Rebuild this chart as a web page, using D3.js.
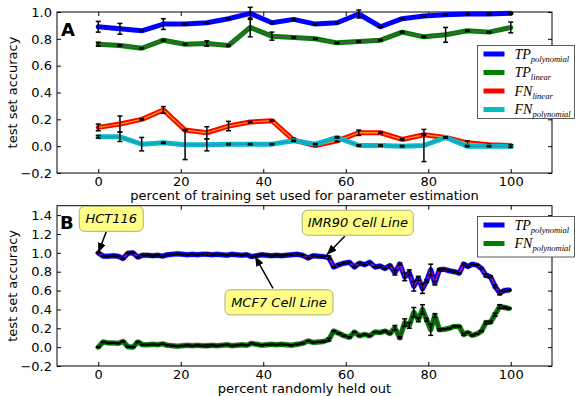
<!DOCTYPE html>
<html>
<head>
<meta charset="utf-8">
<script src="https://cdn.jsdelivr.net/npm/d3@7"></script>
<style>
  body { margin: 0; background: #fff; }
  svg { display: block; }
</style>
</head>
<body>
<script>
// ---------- Panel A: accuracy vs. share of training set used ----------
const xA = [0, 5.26, 10.53, 15.79, 21.05, 26.32, 31.58, 36.84, 42.11, 47.37,
            52.63, 57.89, 63.16, 68.42, 73.68, 78.95, 84.21, 89.47, 94.74, 100];
const tpPolyA = [0.89, 0.875, 0.86, 0.91, 0.91, 0.92, 0.95, 0.99, 0.92, 0.945,
                 0.91, 0.92, 0.985, 0.89, 0.95, 0.97, 0.98, 0.985, 0.985, 0.99];
const tpLinA  = [0.76, 0.75, 0.73, 0.79, 0.76, 0.765, 0.75, 0.885, 0.82, 0.81,
                 0.80, 0.77, 0.78, 0.79, 0.85, 0.815, 0.83, 0.86, 0.85, 0.885];
const fnLinA  = [0.14, 0.165, 0.20, 0.27, 0.12, 0.10, 0.15, 0.18, 0.19, 0.045,
                 0.005, 0.04, 0.10, 0.10, 0.05, 0.085, 0.065, 0.025, 0.01, 0.005];
const fnPolyA = [0.07, 0.07, 0.015, 0.025, 0.01, 0.01, 0.015, 0.015, 0.015, 0.04,
                 0.015, 0.065, 0.005, 0.005, 0.0, 0.005, 0.065, 0.0, 0.0, 0.0];
const errTpPolyA = [0.04, 0.04, 0.005, 0.04, 0.005, 0.005, 0.005, 0.045, 0.005, 0.005,
                    0.005, 0.005, 0.03, 0.005, 0.005, 0.005, 0.005, 0.005, 0.005, 0.005];
const errTpLinA  = [0.015, 0.005, 0.005, 0.005, 0.005, 0.02, 0.005, 0.07, 0.03, 0.005,
                    0.005, 0.005, 0.005, 0.005, 0.005, 0.005, 0.055, 0.005, 0.005, 0.04];
const errFnLinA  = [0.025, 0.06, 0.005, 0.025, 0.005, 0.045, 0.035, 0.005, 0.005, 0.015,
                    0.005, 0.005, 0.02, 0.005, 0.005, 0.005, 0.005, 0.015, 0.005, 0.005];
const errFnPolyA = [0.01, 0.035, 0.05, 0.005, 0.11, 0.045, 0.005, 0.005, 0.005, 0.005,
                    0.005, 0.005, 0.005, 0.005, 0.005, 0.12, 0.005, 0.005, 0.005, 0.01];

// ---------- Panel B: accuracy vs. share randomly held out ----------
const xB = [0, 1.2, 2.4, 3.6, 4.8, 6, 7.2, 8.4, 9.6, 10.8, 12, 13.2, 14.4, 15.6, 16.8,
            18, 19.2, 20.4, 21.6, 22.8, 24, 25.2, 26.4, 27.6, 28.8, 30, 31.2, 32.4,
            33.6, 34.8, 36, 37.2, 38.4, 39.6, 40.8, 42, 43.2, 44.4, 45.6, 46.8,
            48.2, 49.5, 50.9, 52.1, 53.4, 54.6, 55.9, 57.1, 58.4, 59.6, 60.9, 62.1,
            63.3, 64.6, 65.8, 67.1, 68.3, 69.5, 70.7, 71.9, 73.1, 74.3, 75.4, 76.5,
            77.6, 78.6, 79.6, 80.6, 81.6, 82.7, 83.9, 85.1, 86.3, 87.5, 88.6, 89.6,
            90.7, 91.8, 92.9, 94.0, 95.1, 96.2, 97.3, 98.5, 99.6];
const tpPolyB = [1.0, 0.965, 0.965, 0.97, 0.965, 0.94, 0.995, 1.0, 0.955, 0.975, 0.975,
                 0.97, 0.975, 0.965, 0.98, 0.985, 0.99, 0.985, 0.98, 0.985, 0.98, 0.985,
                 0.985, 0.98, 0.985, 0.98, 0.975, 0.985, 0.98, 0.975, 0.98, 0.96, 0.97,
                 0.98, 0.975, 0.97, 0.975, 0.97, 0.975, 0.98,
                 0.985, 0.975, 0.945, 0.97, 0.965, 0.96, 0.95, 0.85, 0.875, 0.89, 0.90,
                 0.85, 0.89, 0.875, 0.90, 0.85, 0.86, 0.835, 0.865, 0.79, 0.88, 0.745,
                 0.79, 0.645, 0.73, 0.62, 0.70, 0.82, 0.68, 0.82, 0.825, 0.81, 0.80,
                 0.785, 0.88, 0.855, 0.88, 0.87, 0.835, 0.76, 0.745, 0.645, 0.575, 0.60, 0.605];
const fnPolyB = [0.0, 0.055, 0.045, 0.045, 0.04, 0.06, 0.005, 0.0, 0.055, 0.025, 0.025,
                 0.03, 0.025, 0.035, 0.02, 0.015, 0.01, 0.015, 0.02, 0.015, 0.02, 0.015,
                 0.015, 0.02, 0.015, 0.02, 0.025, 0.015, 0.02, 0.025, 0.02, 0.04, 0.03,
                 0.02, 0.025, 0.03, 0.025, 0.03, 0.025, 0.02,
                 0.03, 0.04, 0.065, 0.05, 0.055, 0.06, 0.08, 0.17, 0.145, 0.12, 0.105,
                 0.16, 0.12, 0.135, 0.12, 0.16, 0.155, 0.17, 0.145, 0.205, 0.10, 0.26,
                 0.23, 0.37, 0.29, 0.40, 0.29, 0.185, 0.335, 0.185, 0.19, 0.20, 0.22,
                 0.22, 0.135, 0.155, 0.125, 0.14, 0.17, 0.26, 0.265, 0.345, 0.43, 0.42, 0.41];
const errB = [0.005, 0.005, 0.005, 0.005, 0.005, 0.005, 0.005, 0.005, 0.005, 0.005,
              0.005, 0.005, 0.005, 0.005, 0.005, 0.005, 0.005, 0.005, 0.005, 0.005,
              0.005, 0.005, 0.012, 0.005, 0.005, 0.005, 0.005, 0.005, 0.005, 0.005,
              0.005, 0.005, 0.005, 0.005, 0.005, 0.005, 0.005, 0.005, 0.005, 0.005,
              0.005, 0.005, 0.005, 0.005, 0.005, 0.005, 0.015, 0.005, 0.005, 0.005,
              0.005, 0.005, 0.005, 0.005, 0.005, 0.005, 0.005, 0.005, 0.005, 0.025,
              0.01, 0.04, 0.03, 0.05, 0.02, 0.05, 0.015, 0.06, 0.02, 0.01,
              0.005, 0.005, 0.005, 0.005, 0.01, 0.005, 0.005, 0.005, 0.005, 0.015,
              0.01, 0.015, 0.02, 0.01, 0.005];

const xTicks = [0, 20, 40, 60, 80, 100];
const yTicksA = [-0.2, 0.0, 0.2, 0.4, 0.6, 0.8, 1.0];
const yTicksB = [-0.2, 0.0, 0.2, 0.4, 0.6, 0.8, 1.0, 1.2, 1.4];

const cellLines = [
  { label: "HCT116", x: 0, y: 1.0 },
  { label: "MCF7 Cell Line", x: 38, y: 0.963 },
  { label: "IMR90 Cell Line", x: 55.4, y: 0.98 }
];

// ---------- drawing ----------
const W = 575, H = 396;
const svg = d3.select("body").append("svg").attr("width", W).attr("height", H);

svg.append("defs").append("marker")
  .attr("id", "arrowhead")
  .attr("markerUnits", "userSpaceOnUse")
  .attr("viewBox", "0 0 10 8")
  .attr("refX", 10).attr("refY", 4)
  .attr("markerWidth", 10).attr("markerHeight", 8)
  .attr("orient", "auto")
  .append("path").attr("d", "M0,0 L10,4 L0,8 Z").attr("fill", "#000");

const sans = "'DejaVu Sans', 'Bitstream Vera Sans', sans-serif";
const serif = "'Liberation Serif', 'DejaVu Serif', serif";

function panel(box, yDomain, yTicks, xLabel) {
  const x = d3.scaleLinear().domain([-10, 110]).range([box.left, box.right]);
  const y = d3.scaleLinear().domain(yDomain).range([box.bottom, box.top]);
  const g = svg.append("g");

  const styleAxis = sel => {
    sel.select(".domain").remove();
    sel.selectAll("line").attr("stroke", "#000");
    sel.selectAll("text").attr("font-family", sans).attr("font-size", 13).attr("fill", "#000");
  };
  g.append("g").attr("transform", `translate(${box.left},0)`)
    .call(d3.axisLeft(y).tickValues(yTicks).tickSize(-4).tickPadding(5).tickFormat(d3.format(".1f")))
    .call(styleAxis);
  g.append("g").attr("transform", `translate(${box.right},0)`)
    .call(d3.axisRight(y).tickValues(yTicks).tickSize(-4).tickFormat(""))
    .call(styleAxis);
  g.append("g").attr("transform", `translate(0,${box.bottom})`)
    .call(d3.axisBottom(x).tickValues(xTicks).tickSize(-4).tickPadding(4).tickFormat(d3.format("d")))
    .call(styleAxis);
  g.append("g").attr("transform", `translate(0,${box.top})`)
    .call(d3.axisTop(x).tickValues(xTicks).tickSize(-4).tickFormat(""))
    .call(styleAxis);

  g.append("rect")
    .attr("x", box.left).attr("y", box.top)
    .attr("width", box.right - box.left).attr("height", box.bottom - box.top)
    .attr("fill", "none").attr("stroke", "#000").attr("stroke-width", 1);

  g.append("text")
    .attr("x", (box.left + box.right) / 2).attr("y", box.bottom + 27)
    .attr("text-anchor", "middle").attr("font-family", sans).attr("font-size", 13)
    .text(xLabel);
  g.append("text")
    .attr("transform", `translate(17,${(box.top + box.bottom) / 2}) rotate(-90)`)
    .attr("text-anchor", "middle").attr("font-family", sans).attr("font-size", 13)
    .text("test set accuracy");
  return { g, x, y };
}

function series(p, xs, vals, errs, color, inner, halo) {
  const pts = xs.map((xv, i) => [xv, vals[i], errs[i]]);
  const line = d3.line().x(d => p.x(d[0])).y(d => p.y(d[1]));
  if (halo) {
    p.g.append("path").datum(pts).attr("d", line).attr("fill", "none")
      .attr("stroke", "rgba(0,0,0,0.2)").attr("stroke-width", 6)
      .attr("stroke-linejoin", "round");
  }
  p.g.append("path").datum(pts).attr("d", line).attr("fill", "none")
    .attr("stroke", color).attr("stroke-width", 5)
    .attr("stroke-linejoin", "round").attr("stroke-linecap", "round");
  p.g.append("path").datum(pts).attr("d", line).attr("fill", "none")
    .attr("stroke", inner).attr("stroke-width", 1.3).attr("stroke-linejoin", "round");
  const bars = p.g.append("g").attr("stroke", "#000").attr("stroke-width", 1.5);
  pts.forEach(d => {
    const cx = p.x(d[0]), y0 = p.y(d[1] - d[2]), y1 = p.y(d[1] + d[2]);
    bars.append("line").attr("x1", cx).attr("x2", cx).attr("y1", y0).attr("y2", y1);
    bars.append("line").attr("x1", cx - 2.5).attr("x2", cx + 2.5).attr("y1", y0).attr("y2", y0);
    bars.append("line").attr("x1", cx - 2.5).attr("x2", cx + 2.5).attr("y1", y1).attr("y2", y1);
  });
}

function legend(box, items) {
  const g = svg.append("g");
  g.append("rect").attr("x", box.x).attr("y", box.y).attr("width", box.w).attr("height", box.h)
    .attr("fill", "#fff").attr("stroke", "#333").attr("stroke-width", 0.8);
  items.forEach((it, i) => {
    const cy = box.y + 8.5 + i * box.step;
    g.append("line").attr("x1", box.x + 6).attr("x2", box.x + 27).attr("y1", cy).attr("y2", cy)
      .attr("stroke", it.color).attr("stroke-width", 5);
    const t = g.append("text").attr("x", box.x + 37).attr("y", cy + 4.5)
      .attr("font-family", serif).attr("font-style", "italic").attr("font-size", 14);
    t.append("tspan").text(it.main);
    t.append("tspan").attr("font-size", 8.5).attr("dy", 3).text(it.sub);
  });
}

function panelLetter(txt, x, y) {
  svg.append("text").attr("x", x).attr("y", y)
    .attr("font-family", sans).attr("font-weight", "bold").attr("font-size", 18).text(txt);
}

// Panel A
const pA = panel({ left: 57, right: 552, top: 12, bottom: 173 }, [-0.2, 1.0], yTicksA,
                 "percent of training set used for parameter estimation");
series(pA, xA, tpPolyA, errTpPolyA, "#0000ff", "#0000ff", false);
series(pA, xA, tpLinA, errTpLinA, "#008000", "#555555", false);
series(pA, xA, fnLinA, errFnLinA, "#ff0000", "#ff9a00", false);
series(pA, xA, fnPolyA, errFnPolyA, "#00bfbf", "#2f8fd0", false);
panelLetter("A", 61, 36);
legend({ x: 477.5, y: 45.5, w: 97, h: 73, step: 18.5 }, [
  { color: "#0000ff", main: "TP", sub: "polynomial" },
  { color: "#008000", main: "TP", sub: "linear" },
  { color: "#ff0000", main: "FN", sub: "linear" },
  { color: "#00bfbf", main: "FN", sub: "polynomial" }
]);

// Panel B
const pB = panel({ left: 57, right: 552, top: 205.7, bottom: 366 }, [-0.2, 1.5], yTicksB,
                 "percent randomly held out");
series(pB, xB, tpPolyB, errB, "#0000ff", "#e0105a", true);
series(pB, xB, fnPolyB, errB, "#008000", "#303030", true);
panelLetter("B", 60, 229);
legend({ x: 477.5, y: 216.5, w: 97, h: 40.5, step: 18.5 }, [
  { color: "#0000ff", main: "TP", sub: "polynomial" },
  { color: "#008000", main: "FN", sub: "polynomial" }
]);

// Cell-line callouts: box centre and arrow tail given as pixel offsets from the target point
const calloutLayout = {
  "HCT116":          { cx: 13, cy: -34, w: 64,  tx: 8,  ty: -21 },
  "MCF7 Cell Line":  { cx: 24, cy: 46,  w: 108, tx: 18, ty: 32 },
  "IMR90 Cell Line": { cx: 31, cy: -32, w: 111, tx: 18, ty: -18.5 }
};
cellLines.forEach(c => {
  const L = calloutLayout[c.label];
  const px = pB.x(c.x), py = pB.y(c.y);
  const bx = px + L.cx, by = py + L.cy;
  svg.append("line")
    .attr("x1", px + L.tx).attr("y1", py + L.ty).attr("x2", px).attr("y2", py)
    .attr("stroke", "#000").attr("stroke-width", 1.5).attr("marker-end", "url(#arrowhead)");
  svg.append("rect")
    .attr("x", bx - L.w / 2).attr("y", by - 12.5).attr("width", L.w).attr("height", 25)
    .attr("rx", 5).attr("fill", "#ffff88").attr("stroke", "#9a9a6a").attr("stroke-width", 0.8);
  svg.append("text").attr("x", bx).attr("y", by + 4.5).attr("text-anchor", "middle")
    .attr("font-family", sans).attr("font-style", "italic").attr("font-size", 13)
    .text(c.label);
});
</script>
</body>
</html>
